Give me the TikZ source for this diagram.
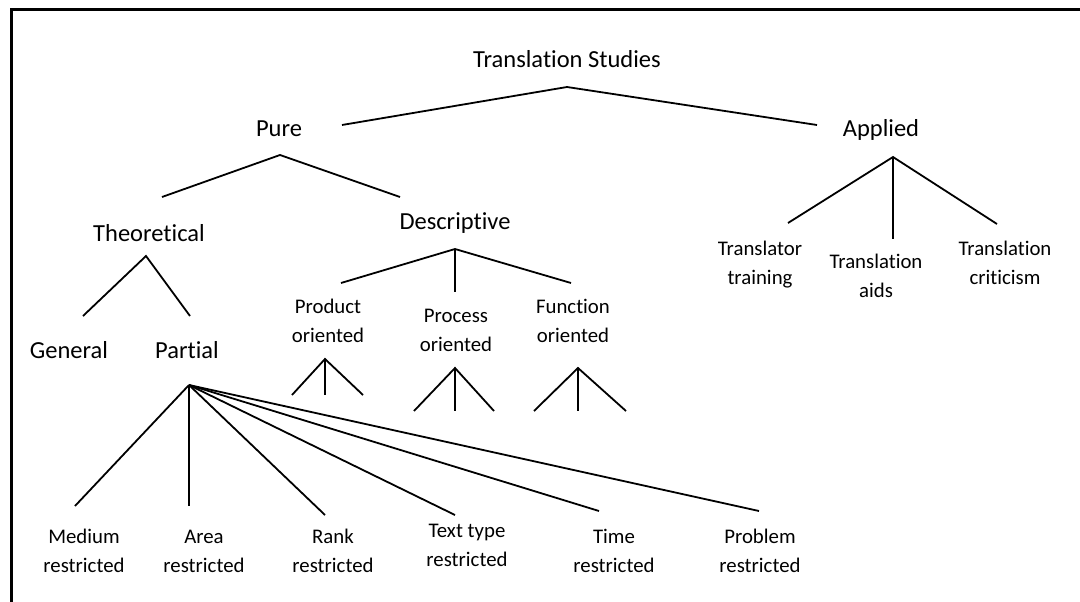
\documentclass[tikz,border=0pt]{standalone}
\usepackage{fontspec}
\setmainfont{Carlito}[Ligatures=NoCommon]
\newcommand{\twoline}[2]{\begin{tabular}[t]{@{}c@{}}#1\\#2\end{tabular}}
\begin{document}
\begin{tikzpicture}[x=1pt,y=-1pt,
  big/.style={font=\fontsize{24.5}{29}\selectfont, inner sep=0pt, anchor=base},
  small/.style={font=\fontsize{20.8}{29}\selectfont, inner sep=0pt, anchor=base},
  link/.style={line width=1.8pt},
  frame/.style={line width=3pt}]
\useasboundingbox (0,0) rectangle (1080,602);

% page frame (top and left edges)
\coordinate (fr-bl) at (11,605);
\coordinate (fr-tl) at (11,10);
\coordinate (fr-tr) at (1083,10);
\draw[frame] (fr-bl) -- (fr-tl) -- (fr-tr);

% labels
\node[big] (ts) at (567,68) {Translation Studies};
\node[big] (pure) at (279,136) {Pure};
\node[big] (applied) at (881,136) {Applied};
\node[big] (theo) at (149,241) {Theoretical};
\node[big] (desc) at (455,229) {Descriptive};
\node[big] (general) at (69,358) {General};
\node[big] (partial) at (187,358) {Partial};

\node[small] (product) at (328,313) {\twoline{Product}{oriented}};
\node[small] (process) at (456,322) {\twoline{Process}{oriented}};
\node[small] (function) at (573,313) {\twoline{Function}{oriented}};

\node[small] (trainer) at (760,255) {\twoline{Translator}{training}};
\node[small] (aids) at (876,268) {\twoline{Translation}{aids}};
\node[small] (crit) at (1005,255) {\twoline{Translation}{criticism}};

\node[small] (medium) at (84,543) {\twoline{Medium}{restricted}};
\node[small] (area) at (204,543) {\twoline{Area}{restricted}};
\node[small] (rank) at (333,543) {\twoline{Rank}{restricted}};
\node[small] (texttype) at (467,537) {\twoline{Text type}{restricted}};
\node[small] (time) at (614,543) {\twoline{Time}{restricted}};
\node[small] (problem) at (760,543) {\twoline{Problem}{restricted}};

% branch points and branch ends
\coordinate (ts-a) at (567,87);
\coordinate (pure-t) at (342,125);
\coordinate (applied-t) at (817,125);

\coordinate (pure-a) at (280,155);
\coordinate (theo-t) at (162,197);
\coordinate (desc-t) at (400,197);

\coordinate (theo-a) at (146,256);
\coordinate (general-t) at (83,316);
\coordinate (partial-t) at (190,316);

\coordinate (desc-a) at (455,249);
\coordinate (product-t) at (341,283);
\coordinate (process-t) at (455,292);
\coordinate (function-t) at (571,283);

\coordinate (applied-a) at (893,157);
\coordinate (trainer-t) at (788,223);
\coordinate (aids-t) at (893,239);
\coordinate (crit-t) at (997,224);

\coordinate (product-a) at (325,359);
\coordinate (product-l) at (292,395);
\coordinate (product-m) at (325,395);
\coordinate (product-r) at (363,395);

\coordinate (process-a) at (455,368);
\coordinate (process-l) at (414,411);
\coordinate (process-m) at (455,411);
\coordinate (process-r) at (494,411);

\coordinate (function-a) at (578,368);
\coordinate (function-l) at (534,411);
\coordinate (function-m) at (578,411);
\coordinate (function-r) at (626,411);

\coordinate (partial-a) at (189,385);
\coordinate (medium-t) at (75,506);
\coordinate (area-t) at (189,506);
\coordinate (rank-t) at (325,515);
\coordinate (texttype-t) at (455,515);
\coordinate (time-t) at (599,511);
\coordinate (problem-t) at (759,511);

% connectors
\draw[link] (pure-t) -- (ts-a) -- (applied-t);
\draw[link] (theo-t) -- (pure-a) -- (desc-t);
\draw[link] (general-t) -- (theo-a) -- (partial-t);
\draw[link] (product-t) -- (desc-a) -- (function-t);
\draw[link] (desc-a) -- (process-t);
\draw[link] (trainer-t) -- (applied-a) -- (crit-t);
\draw[link] (applied-a) -- (aids-t);

\draw[link] (product-l) -- (product-a) -- (product-r);
\draw[link] (product-a) -- (product-m);
\draw[link] (process-l) -- (process-a) -- (process-r);
\draw[link] (process-a) -- (process-m);
\draw[link] (function-l) -- (function-a) -- (function-r);
\draw[link] (function-a) -- (function-m);

\foreach \leaf in {medium,area,rank,texttype,time,problem}
  \draw[link] (partial-a) -- (\leaf-t);
\end{tikzpicture}
\end{document}
